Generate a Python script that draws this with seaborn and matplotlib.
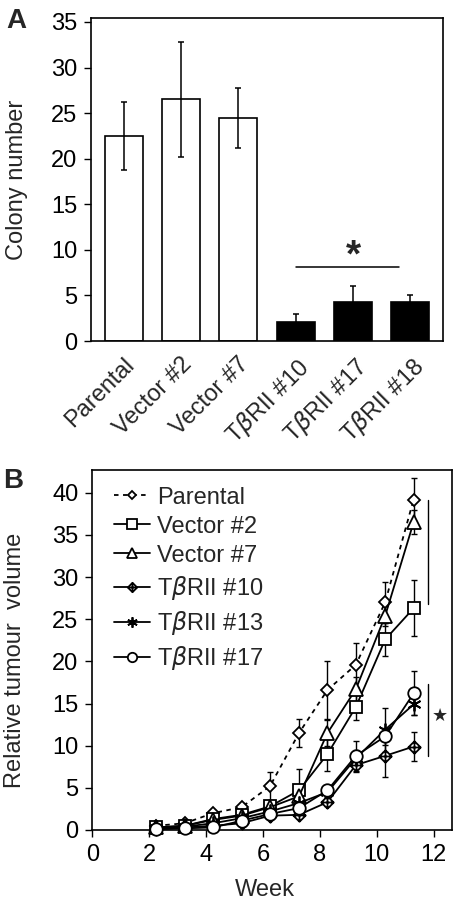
import numpy as np
import pandas as pd
import matplotlib
matplotlib.use("Agg")
import matplotlib.pyplot as plt
from matplotlib.path import Path
import seaborn as sns

# Panel A: colony numbers
strains = ["Parental", "Vector #2", "Vector #7",
           "T$\\beta$RII #10", "T$\\beta$RII #17", "T$\\beta$RII #18"]
colony = [22.5, 26.5, 24.5, 2.1, 4.3, 4.3]
colony_err = [3.7, 6.3, 3.3, 0.9, 1.7, 0.8]
bar_colors = ["white", "white", "white", "black", "black", "black"]

# Panel B: relative tumour volume
weeks = [2.25, 3.25, 4.25, 5.25, 6.25, 7.27, 8.27, 9.27, 10.3, 11.3]
parental = [0.5, 0.8, 2.0, 2.7, 5.2, 11.5, 16.6, 19.6, 27.0, 39.2]
parental_err = [0.2, 0.3, 0.4, 0.5, 1.7, 1.7, 3.4, 2.6, 2.4, 2.5]
vector2 = [0.3, 0.5, 1.3, 1.8, 2.8, 4.7, 9.0, 14.6, 22.6, 26.3]
vector2_err = [0.1, 0.2, 0.3, 0.4, 0.6, 2.5, 2.0, 1.5, 2.0, 3.3]
vector7 = [0.3, 0.5, 1.2, 1.7, 2.7, 4.0, 11.5, 16.7, 25.4, 36.5]
vector7_err = [0.1, 0.2, 0.3, 0.3, 0.5, 1.0, 1.5, 1.5, 1.2, 1.4]
tbr10 = [0.1, 0.3, 0.5, 0.8, 1.7, 1.8, 3.3, 7.7, 8.8, 9.9]
tbr10_err = [0.1, 0.1, 0.2, 0.3, 0.4, 0.4, 0.5, 0.8, 2.5, 1.7]
tbr13 = [0.2, 0.4, 0.8, 1.4, 2.2, 3.2, 4.5, 8.5, 11.9, 14.9]
tbr13_err = [0.1, 0.1, 0.2, 0.3, 0.4, 0.5, 0.6, 1.0, 2.6, 1.3]
tbr17 = [0.1, 0.2, 0.3, 1.1, 1.9, 2.6, 4.7, 8.8, 11.1, 16.2]
tbr17_err = [0.1, 0.1, 0.2, 0.3, 0.3, 0.4, 0.6, 1.8, 1.0, 2.6]

sns.set_theme(style="white")
plt.rcParams["font.family"] = ["Liberation Sans", "DejaVu Sans"]
plt.rcParams["axes.linewidth"] = 1.2
plt.rcParams["axes.edgecolor"] = "black"
FS = 17

fig = plt.figure(figsize=(4.56, 9.0), dpi=100)

# ---------- Panel A ----------
axA = fig.add_axes([91 / 456, 1 - 341 / 900, 352 / 456, (341 - 18.3) / 900])
dfA = pd.DataFrame({"strain": strains, "colony": colony})
sns.barplot(data=dfA, x="strain", y="colony", hue="strain",
            palette=dict(zip(strains, bar_colors)), edgecolor="black",
            linewidth=1.2, width=0.66, legend=False, ax=axA)
axA.errorbar(np.arange(len(strains)), colony, yerr=colony_err, fmt="none",
             ecolor="black", elinewidth=1.1, capsize=2.5, capthick=1.1)
axA.set_xlim(-0.57, 5.57)
axA.set_ylim(0, 35.4)
axA.set_yticks(range(0, 36, 5))
axA.set_ylabel("Colony number", fontsize=FS)
axA.yaxis.set_label_coords(-0.18, 0.5)
axA.set_xlabel("")
axA.tick_params(axis="y", which="both", left=True, direction="out",
                length=5, width=1, pad=5, labelsize=FS, colors="black")
axA.tick_params(axis="x", bottom=False, pad=3, labelsize=FS)
for lab in axA.get_xticklabels():
    lab.set_rotation(45)
    lab.set_ha("right")
    lab.set_va("top")
    lab.set_rotation_mode("anchor")
axA.plot([3.0, 4.8], [8.1, 8.1], color="black", lw=1.1)
axA.text(4.0, 9.3, "*", fontsize=28, fontweight="bold", ha="center", va="center")
fig.text(6 / 456, 1 - 21 / 900, "A", fontsize=20, fontweight="bold", va="center")

# ---------- Panel B ----------
axB = fig.add_axes([92.3 / 456, 1 - 830 / 900, 359.4 / 456, 360 / 900])

diamond_plus = Path(
    [(0, 1), (1, 0), (0, -1), (-1, 0), (0, 1), (0, 1), (0, -1), (-1, 0), (1, 0)],
    [Path.MOVETO, Path.LINETO, Path.LINETO, Path.LINETO, Path.CLOSEPOLY,
     Path.MOVETO, Path.LINETO, Path.MOVETO, Path.LINETO])

series = [
    ("Parental", parental, parental_err, "D", 6, (0, (2.5, 2.5))),
    ("Vector #2", vector2, vector2_err, "s", 9, "-"),
    ("Vector #7", vector7, vector7_err, "^", 9.5, "-"),
    ("T$\\beta$RII #10", tbr10, tbr10_err, diamond_plus, 9, "-"),
    ("T$\\beta$RII #13", tbr13, tbr13_err, (6, 2, 0), 10, "-"),
    ("T$\\beta$RII #17", tbr17, tbr17_err, "o", 9, "-"),
]
for name, vals, err, mk, ms, ls in series:
    axB.errorbar(weeks, vals, yerr=err, fmt="none", ecolor="black",
                 elinewidth=1.0, capsize=2.5, capthick=1.0, zorder=2)
    sns.lineplot(x=weeks, y=vals, ax=axB, color="black", linestyle=ls,
                 lw=1.3, marker=mk, markersize=ms, markerfacecolor="white",
                 markeredgecolor="black", markeredgewidth=1.3, label=name,
                 clip_on=False, zorder=3)

axB.set_xlim(0, 12.64)
axB.set_ylim(0, 42.7)
axB.set_xticks(range(0, 13, 2))
axB.set_yticks(range(0, 41, 5))
axB.tick_params(axis="both", which="both", left=True, bottom=True,
                direction="out", length=5, width=1, pad=5, labelsize=FS,
                colors="black")
axB.set_xlabel("Week", fontsize=FS)
axB.xaxis.set_label_coords(0.48, -0.135)
axB.set_ylabel("Relative tumour  volume", fontsize=FS)
axB.yaxis.set_label_coords(-0.185, 0.47)

axB.plot([11.82, 11.82], [26.8, 39.1], color="black", lw=1.0)
axB.plot([11.82, 11.82], [8.8, 17.3], color="black", lw=1.0)
axB.text(12.22, 13.5, "\u2605", fontsize=13, ha="center", va="center",
         family="DejaVu Sans")

leg = axB.legend(loc="upper left", frameon=False, fontsize=FS,
                 handlelength=1.5, handletextpad=0.3, labelspacing=0.3,
                 markerscale=0.75, borderaxespad=0.3,
                 bbox_to_anchor=(0.015, 1.0))
fig.text(3 / 456, 1 - 481 / 900, "B", fontsize=20, fontweight="bold", va="center")

fig.savefig("out.png", dpi=100)
